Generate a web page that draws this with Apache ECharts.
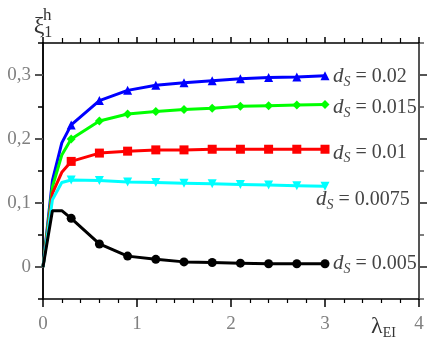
<!DOCTYPE html>
<html>
<head>
<meta charset="utf-8">
<script src="https://cdn.jsdelivr.net/npm/echarts@6/dist/echarts.min.js"></script>
<style>
  html, body { margin: 0; padding: 0; background: #fff; }
  #chart { width: 436px; height: 354px; }
</style>
</head>
<body>
<div id="chart"></div>
<script>
// lambda_EI sample points (markers from 0.3 on)
const lambdaVals = [0, 0.1, 0.2, 0.3, 0.6, 0.9, 1.2, 1.5, 1.8, 2.1, 2.4, 2.7, 3.0];

const xi_002 = [0, 0.135, 0.194, 0.222, 0.26, 0.276, 0.284, 0.288, 0.291, 0.294, 0.296, 0.297, 0.299];
const xi_0015 = [0, 0.125, 0.175, 0.2, 0.228, 0.239, 0.243, 0.246, 0.248, 0.251, 0.252, 0.253, 0.254];
const xi_001 = [0, 0.115, 0.148, 0.165, 0.178, 0.181, 0.183, 0.183, 0.184, 0.184, 0.184, 0.184, 0.184];
const xi_00075 = [0, 0.105, 0.132, 0.136, 0.135, 0.133, 0.132, 0.131, 0.13, 0.129, 0.128, 0.127, 0.126];
const xi_0005 = [0, 0.088, 0.088, 0.076, 0.036, 0.017, 0.012, 0.008, 0.007, 0.006, 0.005, 0.005, 0.005];

const dsLabels = ['0.02', '0.015', '0.01', '0.0075', '0.005'];
const yTickLabels = [0, 0.1, 0.2, 0.3];
const xTickLabels = [0, 1, 2, 3, 4];

const SERIF = '"Liberation Serif", serif';

const lines = [
  { values: xi_002, color: '#0000ff', symbol: 'triangle', rotate: 0, label: dsLabels[0], offset: [4, 1] },
  { values: xi_0015, color: '#00ff00', symbol: 'diamond', rotate: 0, label: dsLabels[1], offset: [4, 3] },
  { values: xi_001, color: '#ff0000', symbol: 'rect', rotate: 0, label: dsLabels[2], offset: [4, 4] },
  { values: xi_00075, color: '#00ffff', symbol: 'triangle', rotate: 180, label: dsLabels[3], offset: [-13, 13] },
  { values: xi_0005, color: '#000000', symbol: 'circle', rotate: 0, label: dsLabels[4], offset: [4, 0] },
];

const chart = echarts.init(document.getElementById('chart'));

const labelRich = {
  d: { fontFamily: SERIF, fontStyle: 'italic', fontSize: 21, color: '#444' },
  s: { fontFamily: SERIF, fontStyle: 'italic', fontSize: 14, color: '#444', verticalAlign: 'bottom', padding: [11, 0, 0, 0] },
  t: { fontFamily: SERIF, fontSize: 20, color: '#444' },
};

const series = lines.map((ln) => ({
  type: 'line',
  xAxisIndex: 0,
  yAxisIndex: 0,
  data: lambdaVals.map((x, i) => (i < 3
    ? { value: [x, ln.values[i]], symbol: 'none' }
    : [x, ln.values[i]])),
  symbol: ln.symbol,
  symbolRotate: ln.rotate,
  symbolSize: 9,
  showAllSymbol: true,
  lineStyle: { color: ln.color, width: 3 },
  itemStyle: { color: ln.color },
  emphasis: { disabled: true },
  animation: false,
  endLabel: {
    show: true,
    distance: 4,
    offset: ln.offset,
    formatter: () => '{d|d}{s|S}{t| = ' + ln.label + '}',
    rich: labelRich,
  },
}));

const axisLine = { show: true, onZero: false, lineStyle: { color: '#000', width: 1.5 } };

chart.setOption({
  animation: false,
  grid: { left: 43, right: 17, top: 43, bottom: 55, containLabel: false },
  xAxis: [
    {
      type: 'value', position: 'bottom', min: 0, max: 4, interval: 1,
      axisLine: axisLine,
      axisTick: { show: true, inside: false, length: 8, lineStyle: { color: '#000', width: 1.5 } },
      minorTick: { show: true, splitNumber: 5, length: 4, lineStyle: { color: '#000', width: 1.2 } },
      splitLine: { show: false },
      axisLabel: { show: true, margin: 16, color: '#808080', fontFamily: SERIF, fontSize: 19,
        customValues: xTickLabels },
      name: '{l|λ}{s|EI}',
      nameLocation: 'end',
      nameGap: -48,
      nameTextStyle: {
        verticalAlign: 'top', padding: [15, 0, 0, 0],
        rich: {
          l: { fontFamily: SERIF, fontSize: 24, color: '#333' },
          s: { fontFamily: SERIF, fontSize: 14, color: '#333', verticalAlign: 'bottom', padding: [12, 0, 0, 0] },
        },
      },
    },
    {
      type: 'value', position: 'top', min: 0, max: 4, interval: 1,
      axisLine: axisLine,
      axisTick: { show: true, inside: false, length: 6, lineStyle: { color: '#000', width: 1.5 } },
      minorTick: { show: true, splitNumber: 5, length: 5, lineStyle: { color: '#000', width: 1.2 } },
      splitLine: { show: false },
      axisLabel: { show: false },
    },
  ],
  yAxis: [
    {
      type: 'value', position: 'left', min: -0.05, max: 0.35, interval: 0.05,
      axisLine: axisLine,
      axisTick: { show: true, inside: false, length: 5, lineStyle: { color: '#000', width: 1.5 } },
      splitLine: { show: false },
      axisLabel: { show: false },
      name: '{x|ξ}{s|1}',
      nameLocation: 'end',
      nameGap: 2,
      nameTextStyle: {
        align: 'center',
        rich: {
          x: { fontFamily: SERIF, fontSize: 24, color: '#333' },
          s: { fontFamily: SERIF, fontSize: 16, color: '#333', verticalAlign: 'bottom', padding: [12, 0, 0, 0] },
        },
      },
    },
    {
      type: 'value', position: 'left', min: -0.05, max: 0.35,
      axisLine: axisLine,
      axisTick: { show: true, inside: false, length: 8, customValues: yTickLabels,
        lineStyle: { color: '#555', width: 2 } },
      splitLine: { show: false },
      axisLabel: {
        show: true, margin: 12, color: '#808080', fontFamily: SERIF, fontSize: 19,
        customValues: yTickLabels,
        formatter: (v) => (Math.abs(v) < 1e-9 ? '0' : v.toFixed(1).replace('.', ',')),
      },
      name: 'h',
      nameLocation: 'end',
      nameGap: 19,
      nameTextStyle: { fontFamily: SERIF, fontSize: 17, color: '#333', align: 'left', padding: [0, 0, 0, 0] },
    },
    {
      type: 'value', position: 'right', min: -0.05, max: 0.35, interval: 0.05,
      axisLine: { show: true, onZero: false, lineStyle: { color: '#555', width: 2 } },
      axisTick: { show: true, inside: false, length: 5, lineStyle: { color: '#555', width: 1.5 } },
      splitLine: { show: false },
      axisLabel: { show: false },
    },
    {
      type: 'value', position: 'right', min: -0.05, max: 0.35,
      axisLine: { show: true, onZero: false, lineStyle: { color: '#555', width: 2 } },
      axisTick: { show: true, inside: false, length: 8, customValues: yTickLabels,
        lineStyle: { color: '#555', width: 2 } },
      splitLine: { show: false },
      axisLabel: { show: false },
    },
  ],
  series: series,
});
</script>
</body>
</html>
